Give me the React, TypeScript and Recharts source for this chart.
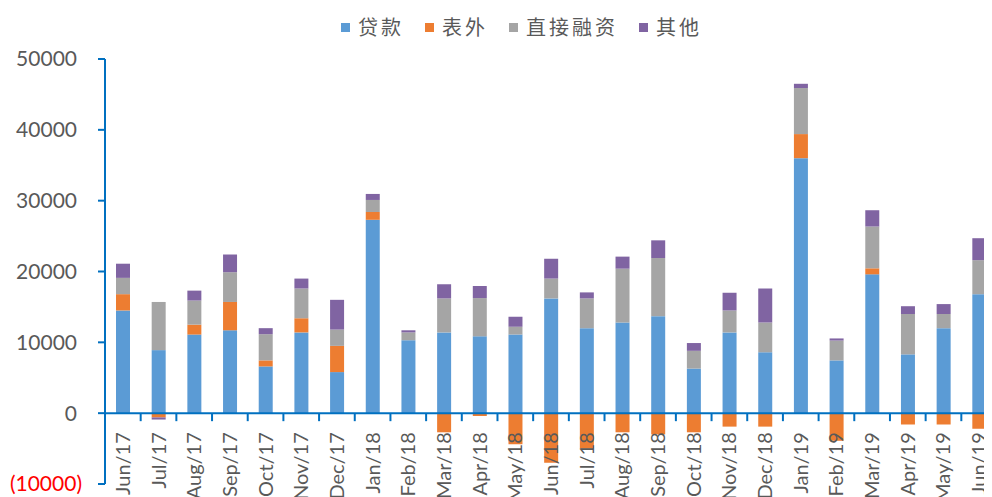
import { BarChart, Bar, XAxis, YAxis, ReferenceLine, Legend } from "recharts";

const months = [
  "Jun/17", "Jul/17", "Aug/17", "Sep/17", "Oct/17", "Nov/17", "Dec/17",
  "Jan/18", "Feb/18", "Mar/18", "Apr/18", "May/18", "Jun/18", "Jul/18",
  "Aug/18", "Sep/18", "Oct/18", "Nov/18", "Dec/18", "Jan/19", "Feb/19",
  "Mar/19", "Apr/19", "May/19", "Jun/19",
];

const seriesNames = ["贷款", "表外", "直接融资", "其他"];

// 贷款
const loans = [
  14500, 8900, 11100, 11700, 6600, 11400, 5800, 27300, 10300, 11400, 10850,
  11100, 16200, 12000, 12800, 13700, 6300, 11400, 8600, 36000, 7450, 19600,
  8300, 12000, 16800,
];
// 表外
const offBalance = [
  2300, -600, 1400, 4000, 850, 2000, 3700, 1100, 0, -2700, -400, -4400, -7000,
  -5000, -2700, -3000, -2700, -1900, -1900, 3400, -3900, 850, -1600, -1600,
  -2200,
];
// 直接融资
const directFinancing = [
  2300, 6800, 3400, 4200, 3700, 4200, 2300, 1700, 1100, 4800, 5400, 1100, 2800,
  4200, 7600, 8200, 2500, 3100, 4200, 6500, 2800, 5900, 5700, 2000, 4800,
];
// 其他
const others = [
  2000, -300, 1400, 2500, 850, 1400, 4200, 850, 300, 2000, 1700, 1400, 2800,
  850, 1700, 2500, 1100, 2500, 4800, 600, 300, 2300, 1100, 1400, 3100,
];

const yTicks = [-10000, 0, 10000, 20000, 30000, 40000, 50000];

const data = months.map((month, i) => ({
  month,
  贷款: loans[i],
  表外: offBalance[i],
  直接融资: directFinancing[i],
  其他: others[i],
}));

const CHART_W = 1000;
const CHART_H = 489;
const X_AXIS_H = 1;
const MARGIN = { top: 51, right: 11, bottom: 12, left: 0 };
const Y_MIN = -10000;
const Y_MAX = 50000;
const PLOT_H = CHART_H - MARGIN.top - MARGIN.bottom - X_AXIS_H;
const PLOT_BOTTOM = MARGIN.top + PLOT_H;
// y position of the zero line inside the chart
const ZERO_Y = PLOT_BOTTOM - (PLOT_H * (0 - Y_MIN)) / (Y_MAX - Y_MIN);

const AXIS_BLUE = "#0070C0";
const TEXT_GRAY = "#595959";
const LABEL_FONT = "Lato, 'Liberation Sans', sans-serif";

function XTick(props: any) {
  const { x, payload } = props;
  const half = payload?.offset || 17.8;
  const ty = ZERO_Y + 19;
  return (
    <g>
      <line
        x1={x + half}
        x2={x + half}
        y1={ZERO_Y}
        y2={ZERO_Y + 8}
        stroke={AXIS_BLUE}
        strokeWidth={2}
      />
      <text
        x={x}
        y={ty}
        transform={`rotate(-90 ${x} ${ty})`}
        textAnchor="end"
        dy="0.35em"
        fill={TEXT_GRAY}
        fontSize={20}
        fontFamily={LABEL_FONT}
      >
        {payload.value}
      </text>
    </g>
  );
}

function YTick(props: any) {
  const { x, y, payload } = props;
  const v = payload.value;
  return (
    <text
      x={v < 0 ? x + 5 : x}
      y={y}
      textAnchor="end"
      dy="0.35em"
      fill={v < 0 ? "#FF0000" : TEXT_GRAY}
      fontSize={21}
      fontFamily={LABEL_FONT}
    >
      {v < 0 ? `(${-v})` : v}
    </text>
  );
}

function LegendContent({ payload }: any) {
  const items = [...(payload || [])].sort(
    (a: any, b: any) => seriesNames.indexOf(a.value) - seriesNames.indexOf(b.value)
  );
  return (
    <div
      style={{
        display: "flex",
        justifyContent: "center",
        paddingLeft: 27,
        gap: 21,
        fontFamily: "'Noto Sans CJK SC', sans-serif",
        fontSize: 20,
        lineHeight: "28px",
        letterSpacing: 3,
        color: TEXT_GRAY,
      }}
    >
      {items.map((p: any) => (
        <span key={p.value} style={{ display: "flex", alignItems: "center" }}>
          <span
            style={{
              width: 9,
              height: 9,
              background: p.color,
              marginRight: 8,
              display: "inline-block",
            }}
          />
          {p.value}
        </span>
      ))}
    </div>
  );
}

export default function App() {
  return (
    <div
      style={{
        width: 984,
        height: CHART_H,
        overflow: "hidden",
        position: "relative",
      }}
    >
      <BarChart
        width={CHART_W}
        height={CHART_H}
        data={data}
        margin={MARGIN}
        stackOffset="sign"
      >
        <Bar dataKey="贷款" stackId="a" fill="#5B9BD5" barSize={14} isAnimationActive={false} />
        <Bar dataKey="表外" stackId="a" fill="#ED7D31" barSize={14} isAnimationActive={false} />
        <Bar dataKey="直接融资" stackId="a" fill="#A5A5A5" barSize={14} isAnimationActive={false} />
        <Bar dataKey="其他" stackId="a" fill="#8064A2" barSize={14} isAnimationActive={false} />
        <ReferenceLine y={0} stroke={AXIS_BLUE} strokeWidth={2} />
        <XAxis
          dataKey="month"
          height={X_AXIS_H}
          axisLine={false}
          tickLine={false}
          tickSize={0}
          tickMargin={0}
          interval={0}
          tick={<XTick />}
        />
        <YAxis
          width={97}
          domain={[Y_MIN, Y_MAX]}
          ticks={yTicks}
          interval={0}
          axisLine={{ stroke: AXIS_BLUE, strokeWidth: 2 }}
          tickLine={{ stroke: AXIS_BLUE, strokeWidth: 2 }}
          tickSize={7}
          tickMargin={21}
          tick={<YTick />}
        />
        <Legend
          verticalAlign="middle"
          align="center"
          layout="horizontal"
          wrapperStyle={{ top: 5, left: 0, width: CHART_W }}
          content={<LegendContent />}
        />
      </BarChart>
    </div>
  );
}
